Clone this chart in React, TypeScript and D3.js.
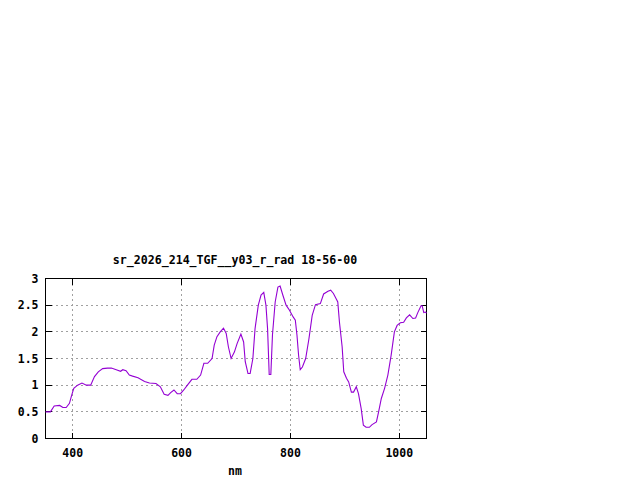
import React, { useEffect, useRef } from 'react';
import * as d3 from 'd3';

const title = 'sr_2026_214_TGF__y03_r_rad 18-56-00';
const xLabel = 'nm';
const xTicks = [400, 600, 800, 1000];
const yTicks = [0, 0.5, 1, 1.5, 2, 2.5, 3];

const wavelength = [
  350, 359, 366, 376, 382, 388, 394, 398, 402, 409, 417, 425, 433, 440, 447, 455,
  464, 471, 480, 488, 492, 498, 504, 510, 520, 532, 541, 553, 561, 568, 575, 580,
  586, 592, 598, 604, 610, 619, 628, 635, 641, 648, 656, 660, 665, 671, 677, 682,
  686, 691, 697, 702, 709, 714, 717, 722, 726, 731, 735, 741, 746, 751, 755, 758,
  761, 764, 767, 772, 777, 781, 786, 792, 798, 805, 809, 812, 815, 818, 822, 828,
  834, 840, 846, 855, 861, 869, 874, 879, 884, 887, 890, 895, 898, 903, 907, 912,
  916, 921, 925, 930, 934, 939, 945, 950, 958, 962, 967, 973, 979, 985, 991, 996,
  1002, 1008, 1013, 1019, 1025, 1030, 1034, 1040, 1042, 1045, 1048, 1050,
];
const radiance = [
  0.5, 0.5, 0.61, 0.62, 0.58, 0.58, 0.66, 0.81, 0.94, 1.0, 1.04, 1.0, 1.0, 1.16, 1.25, 1.31,
  1.32, 1.32, 1.29, 1.26, 1.29, 1.27, 1.19, 1.17, 1.14, 1.07, 1.04, 1.03, 0.97, 0.83, 0.81, 0.86,
  0.91, 0.84, 0.84, 0.91, 0.99, 1.11, 1.11, 1.19, 1.41, 1.41, 1.5, 1.75, 1.91, 2.0, 2.07, 1.97,
  1.72, 1.5, 1.62, 1.78, 1.96, 1.81, 1.44, 1.22, 1.22, 1.5, 2.06, 2.5, 2.69, 2.74, 2.5, 2.06,
  1.2, 1.2, 1.94, 2.56, 2.84, 2.86, 2.69, 2.5, 2.41, 2.28, 2.22, 1.94, 1.56, 1.29, 1.34, 1.5,
  1.87, 2.31, 2.51, 2.53, 2.71, 2.76, 2.78, 2.72, 2.62, 2.56, 2.19, 1.72, 1.25, 1.13, 1.06, 0.87,
  0.87, 0.97, 0.84, 0.56, 0.25, 0.21, 0.21, 0.26, 0.31, 0.5, 0.75, 0.94, 1.19, 1.56, 2.0, 2.12,
  2.17, 2.18, 2.26, 2.32, 2.25, 2.26, 2.36, 2.49, 2.49, 2.36, 2.37, 2.35,
];

const App: React.FC = () => {
  const chartRef = useRef<SVGSVGElement | null>(null);

  useEffect(() => {
    if (!chartRef.current) return;
    const svg = d3.select(chartRef.current);
    svg.selectAll('*').remove();

    const margin = { top: 278.5, right: 213.5, bottom: 41.5, left: 45.5 };
    const width = 640 - margin.left - margin.right;
    const height = 480 - margin.top - margin.bottom;
    const font = "'DejaVu Sans Mono', 'Liberation Mono', monospace";

    const x = d3.scaleLinear().domain([350, 1050]).range([0, width]);
    const y = d3.scaleLinear().domain([0, 3]).range([height, 0]);

    const chart = svg.append('g')
      .attr('transform', `translate(${margin.left},${margin.top})`);

    // grid
    chart.selectAll('.gx')
      .data(xTicks)
      .enter().append('line')
      .attr('x1', d => Math.round(x(d)))
      .attr('x2', d => Math.round(x(d)))
      .attr('y1', 0)
      .attr('y2', height)
      .attr('stroke', '#a0a0a0')
      .attr('stroke-dasharray', '2,3')
      .attr('shape-rendering', 'crispEdges');

    chart.selectAll('.gy')
      .data(yTicks.slice(1, -1))
      .enter().append('line')
      .attr('x1', 0)
      .attr('x2', width)
      .attr('y1', d => Math.round(y(d)))
      .attr('y2', d => Math.round(y(d)))
      .attr('stroke', '#a0a0a0')
      .attr('stroke-dasharray', '2,3')
      .attr('shape-rendering', 'crispEdges');

    // inward ticks on all four sides
    const tick = 6;
    const ticks = chart.append('g')
      .attr('stroke', '#000')
      .attr('shape-rendering', 'crispEdges');
    xTicks.forEach(t => {
      const px = Math.round(x(t));
      ticks.append('line').attr('x1', px).attr('x2', px)
        .attr('y1', height).attr('y2', height - tick);
      ticks.append('line').attr('x1', px).attr('x2', px)
        .attr('y1', 0).attr('y2', tick);
    });
    yTicks.forEach(t => {
      const py = Math.round(y(t));
      ticks.append('line').attr('x1', 0).attr('x2', tick)
        .attr('y1', py).attr('y2', py);
      ticks.append('line').attr('x1', width).attr('x2', width - tick)
        .attr('y1', py).attr('y2', py);
    });

    chart.append('rect')
      .attr('width', width)
      .attr('height', height)
      .attr('fill', 'none')
      .attr('stroke', '#000')
      .attr('shape-rendering', 'crispEdges');

    // tick labels
    chart.selectAll('.xl')
      .data(xTicks)
      .enter().append('text')
      .attr('x', d => x(d))
      .attr('y', height + 18)
      .attr('text-anchor', 'middle')
      .attr('font-family', font)
      .attr('font-weight', 'bold')
      .attr('font-size', 11.5)
      .text(d => String(d));

    chart.selectAll('.yl')
      .data(yTicks)
      .enter().append('text')
      .attr('x', -7)
      .attr('y', d => y(d) + 4)
      .attr('text-anchor', 'end')
      .attr('font-family', font)
      .attr('font-weight', 'bold')
      .attr('font-size', 11.5)
      .text(d => String(d));

    // series
    const pts = wavelength.map((w, i) => [w, radiance[i]] as [number, number]);
    const line = d3.line<[number, number]>()
      .x(d => x(d[0]))
      .y(d => y(d[1]));

    chart.append('path')
      .datum(pts)
      .attr('d', line)
      .attr('fill', 'none')
      .attr('stroke', '#9400d3')
      .attr('stroke-width', 1.1);

    svg.append('text')
      .attr('x', 235)
      .attr('y', 264)
      .attr('text-anchor', 'middle')
      .attr('font-family', font)
      .attr('font-weight', 'bold')
      .attr('font-size', 11.6)
      .text(title);

    svg.append('text')
      .attr('x', 235)
      .attr('y', 475)
      .attr('text-anchor', 'middle')
      .attr('font-family', font)
      .attr('font-weight', 'bold')
      .attr('font-size', 11.5)
      .text(xLabel);
  }, []);

  return (
    <svg ref={chartRef} width="640" height="480"
      style={{ position: 'absolute', left: 0, top: 0, background: '#fff' }}></svg>
  );
};

export default App;
